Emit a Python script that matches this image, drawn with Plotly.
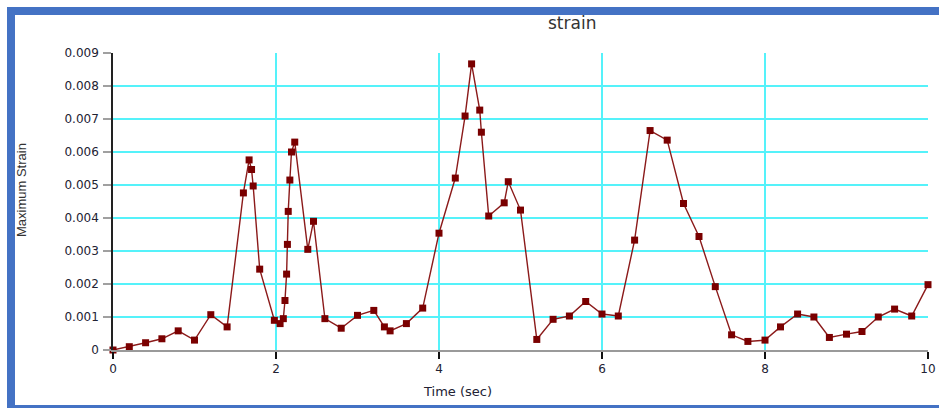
import plotly.graph_objects as go

# Sample times (s) and the maximum strain recorded at each
time_s = [0, 0.2, 0.4, 0.6, 0.8, 1.0, 1.2, 1.4,
          1.6, 1.67, 1.7, 1.72, 1.8,
          1.98, 2.05, 2.09, 2.11, 2.13, 2.14, 2.15, 2.17, 2.19, 2.23,
          2.39, 2.46, 2.6, 2.8,
          3.0, 3.2, 3.33, 3.4, 3.6, 3.8,
          4.0, 4.2, 4.32, 4.4, 4.5, 4.52, 4.61, 4.8, 4.85, 5.0,
          5.2, 5.4, 5.6, 5.8, 6.0, 6.2, 6.4, 6.59, 6.8, 7.0, 7.19, 7.39, 7.59, 7.79,
          8.0, 8.19, 8.4, 8.6, 8.79, 9.0, 9.19, 9.39, 9.59, 9.8, 10.0]
max_strain = [0, 0.0001, 0.00022, 0.00034, 0.00058, 0.0003, 0.00107, 0.0007,
              0.00476, 0.00576, 0.00547, 0.00497, 0.00245,
              0.0009, 0.0008, 0.00095, 0.0015, 0.0023, 0.0032, 0.0042, 0.00515, 0.006, 0.0063,
              0.00305, 0.0039, 0.00095, 0.00066,
              0.00105, 0.0012, 0.0007, 0.00058, 0.0008, 0.00127,
              0.00354, 0.00521, 0.00709, 0.00867, 0.00727, 0.0066, 0.00406, 0.00446, 0.0051, 0.00424,
              0.00032, 0.00093, 0.00103, 0.00147, 0.00109, 0.00103, 0.00333, 0.00665, 0.00636,
              0.00444, 0.00344, 0.00192, 0.00046, 0.00026,
              0.0003, 0.0007, 0.00109, 0.001, 0.00038, 0.00048, 0.00056, 0.001, 0.00124, 0.00103, 0.00198]

x_ticks = [0, 2, 4, 6, 8, 10]
x_tick_labels = ["0", "2", "4", "6", "8", "10"]
y_ticks = [0, 0.001, 0.002, 0.003, 0.004, 0.005, 0.006, 0.007, 0.008, 0.009]
y_tick_labels = ["0", "0.001", "0.002", "0.003", "0.004", "0.005",
                 "0.006", "0.007", "0.008", "0.009"]

W, H = 939, 408
L, R, T, B = 113, 11, 53, 58
PW, PH = W - L - R, H - T - B


def px(xp):
    return (xp - L) / PW


def py(yp):
    return (H - B - yp) / PH


fig = go.Figure()
fig.add_trace(go.Scatter(
    x=time_s, y=max_strain, mode="lines+markers",
    line=dict(color="#8b1a1a", width=1.4),
    marker=dict(symbol="square", size=7, color="#7a0000"),
    cliponaxis=False, showlegend=False,
))

tick_font = dict(family="DejaVu Sans", size=12, color="#222233")
fig.update_xaxes(
    range=[0, 10], tickvals=x_ticks, ticktext=x_tick_labels,
    showgrid=True, gridcolor="#55f2fa", gridwidth=1.5,
    showline=True, linecolor="#9a9a9a", linewidth=2,
    ticks="outside", ticklen=7, tickcolor="#111111", tickwidth=1.5,
    tickfont=tick_font, zeroline=False, automargin=False,
    ticklabelstandoff=0,
)
fig.update_yaxes(
    range=[0, 0.009], tickvals=y_ticks, ticktext=y_tick_labels,
    showgrid=True, gridcolor="#55f2fa", gridwidth=1.5,
    showline=True, linecolor="#222222", linewidth=1.5,
    ticks="outside", ticklen=8, tickcolor="#a0a0a0", tickwidth=2,
    tickfont=tick_font, zeroline=False, ticklabelstandoff=2,
    automargin=False,
)

blue = "#4472c4"
frame = [
    (px(7), py(7), px(15), py(408)),      # left bar
    (px(7), py(7), px(939), py(15)),      # top bar
    (px(7), py(405), px(939), py(408)),   # bottom bar
]
for x0, y0, x1, y1 in frame:
    fig.add_shape(type="rect", xref="paper", yref="paper",
                  x0=x0, y0=y0, x1=x1, y1=y1,
                  fillcolor=blue, line=dict(width=0), layer="above")

text_kw = dict(xref="paper", yref="paper", showarrow=False,
               xanchor="center", yanchor="middle")
fig.add_annotation(text="strain", x=px(572), y=py(23),
                   font=dict(family="DejaVu Sans", size=17, color="#333333"),
                   **text_kw)
fig.add_annotation(text="Time (sec)", x=px(457), y=py(391),
                   font=dict(family="DejaVu Sans", size=13, color="#222233"),
                   **text_kw)
fig.add_annotation(text="Maximum Strain", x=px(21), y=py(190), textangle=-90,
                   font=dict(family="Liberation Sans", size=13, color="#333333"),
                   **text_kw)

fig.update_layout(
    width=W, height=H,
    margin=dict(l=L, r=R, t=T, b=B),
    plot_bgcolor="white", paper_bgcolor="white",
)

fig.write_html("out.html")
